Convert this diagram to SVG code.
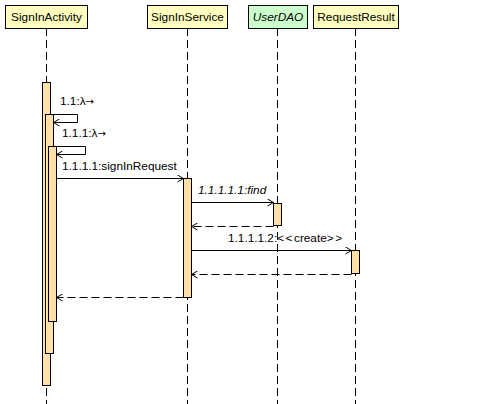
<svg xmlns="http://www.w3.org/2000/svg" width="489" height="404" viewBox="0 0 489 404">
<style>
.hdr{stroke:#000;stroke-width:1}
.life{stroke:#000;stroke-width:1;stroke-dasharray:8,4;fill:none}
.act{fill:#ffe0a8;stroke:#000;stroke-width:1}
.msg{stroke:#000;stroke-width:1;fill:none}
.ret{stroke:#000;stroke-width:1;fill:none;stroke-dasharray:8,4}
text{font-family:"Liberation Sans",Arial,sans-serif;font-size:11.8px;fill:#000}
.it{font-style:italic}
.ar{font-family:"DejaVu Sans",sans-serif;font-size:10px}
.sp{letter-spacing:1.5px}
</style>
<defs>
<marker id="ah" markerWidth="8" markerHeight="8" refX="7" refY="4" orient="auto" markerUnits="userSpaceOnUse">
<path d="M1,0.5 L7,4 L1,7.5" fill="none" stroke="#000" stroke-width="1"/>
</marker>
</defs>
<rect width="489" height="404" fill="#fff"/>
<g id="SignInActivity">
<line class="life" x1="46.5" y1="28" x2="46.5" y2="404"/>
<rect class="hdr" x="5.5" y="5.5" width="82" height="23" fill="#ffffc0"/>
<text x="46.5" y="21" text-anchor="middle">SignInActivity</text>
<rect class="act" x="42.5" y="82.5" width="8" height="303"/>
<rect class="act" x="45.5" y="114.5" width="8" height="239"/>
<rect class="act" x="48.5" y="146.5" width="8" height="175"/>
</g>
<g id="SignInService">
<line class="life" x1="187.5" y1="28" x2="187.5" y2="404"/>
<rect class="hdr" x="147.5" y="5.5" width="80" height="23" fill="#ffffc0"/>
<text x="187.5" y="21" text-anchor="middle">SignInService</text>
<rect class="act" x="183.5" y="178.5" width="8" height="119"/>
</g>
<g id="UserDAO">
<line class="life" x1="277.5" y1="28" x2="277.5" y2="404"/>
<rect class="hdr" x="248.5" y="5.5" width="59" height="23" fill="#ccffcc"/>
<text x="278" y="21" text-anchor="middle" class="it">UserDAO</text>
<rect class="act" x="273.5" y="203.5" width="8" height="22"/>
</g>
<g id="RequestResult">
<line class="life" x1="355.5" y1="28" x2="355.5" y2="404"/>
<rect class="hdr" x="313.5" y="5.5" width="85" height="23" fill="#ffffc0"/>
<text x="356" y="21" text-anchor="middle">RequestResult</text>
<rect class="act" x="351.5" y="250.5" width="8" height="23"/>
</g>
<g id="connectors">
<polyline class="msg" points="50.5,114.5 77.5,114.5 77.5,122.5 53.5,122.5" marker-end="url(#ah)"/>
<text x="60" y="105">1.1:λ<tspan class="ar">→</tspan></text>
<polyline class="msg" points="53.5,146.5 85.5,146.5 85.5,154.5 56.5,154.5" marker-end="url(#ah)"/>
<text x="62" y="137">1.1.1:λ<tspan class="ar">→</tspan></text>
<line class="msg" x1="56.5" y1="178.5" x2="183.5" y2="178.5" marker-end="url(#ah)"/>
<text x="62" y="170">1.1.1.1:signInRequest</text>
<line class="msg" x1="191.5" y1="202.5" x2="273.5" y2="202.5" marker-end="url(#ah)"/>
<text x="198" y="194" class="it">1.1.1.1.1:find</text>
<line class="ret" x1="273.5" y1="226.5" x2="191.5" y2="226.5" marker-end="url(#ah)"/>
<line class="msg" x1="191.5" y1="250.5" x2="351.5" y2="250.5" marker-end="url(#ah)"/>
<text x="228" y="242">1.1.1.1.2:<tspan class="sp">&lt;&lt;</tspan>create<tspan class="sp">&gt;&gt;</tspan></text>
<line class="ret" x1="351.5" y1="274.5" x2="191.5" y2="274.5" marker-end="url(#ah)"/>
<line class="ret" x1="183.5" y1="297.5" x2="56.5" y2="297.5" marker-end="url(#ah)"/>
</g>
</svg>
